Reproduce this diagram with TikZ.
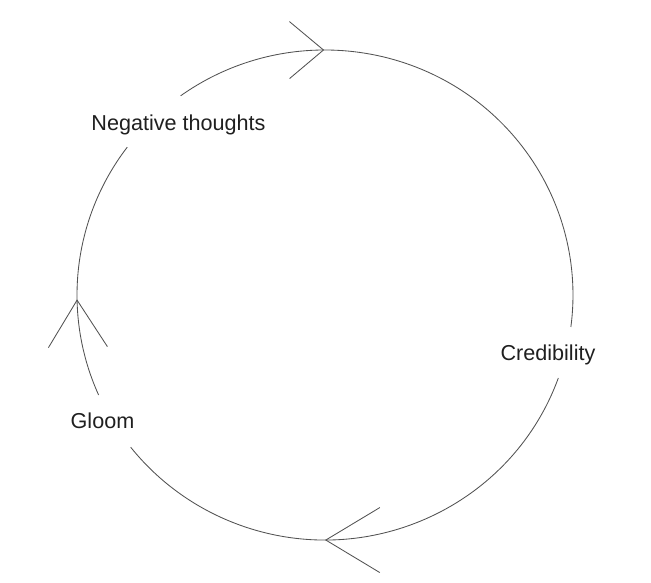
\documentclass[tikz,border=0pt]{standalone}
\usepackage{fontspec}
\setmainfont{Liberation Sans}
\usetikzlibrary{calc}
\usetikzlibrary{arrows.meta}
\usetikzlibrary{decorations.markings}

\begin{document}
\begin{tikzpicture}[x=1pt,y=1pt,
	lbl/.style={anchor=base,inner sep=0pt,text=black!88,font=\fontsize{21.6}{26}\selectfont},
	ring/.style={draw=black!68,line width=0.85pt},
	barb/.style n args={3}{postaction={decorate},decoration={markings,
		mark=at position #1 with {\arrow{Straight Barb[length=#2pt,width=#3pt,line width=0.85pt]}}}}]
	\useasboundingbox (0,0) rectangle (651,583);

	\coordinate (c) at (325,288);
	\node[lbl] (neg) at (178.5,452) {Negative thoughts};
	\node[lbl] (cred) at (548,222) {Credibility};
	\node[lbl] (gloom) at (102.5,154) {Gloom};

	\coordinate (neg-e) at ($(c)+(125.6:248 and 245)$);
	\coordinate (cred-n) at ($(c)+(-7.5:248 and 245)$);
	\coordinate (cred-s) at ($(c)+(-19.8:248 and 245)$);
	\coordinate (gloom-e) at ($(c)+(-141.6:248 and 245)$);
	\coordinate (gloom-n) at ($(c)+(204.1:248 and 245)$);
	\coordinate (neg-s) at ($(c)+(142.9:248 and 245)$);

	\draw[ring,barb={0.267}{34}{57}] (neg-e)
		arc[start angle=125.6,end angle=-7.5,x radius=248,y radius=245];
	\draw[ring,barb={0.576}{54}{65}] (cred-s)
		arc[start angle=-19.8,end angle=-141.6,x radius=248,y radius=245];
	\draw[ring,barb={0.377}{47}{59}] (gloom-n)
		arc[start angle=204.1,end angle=142.9,x radius=248,y radius=245];
\end{tikzpicture}
\end{document}
